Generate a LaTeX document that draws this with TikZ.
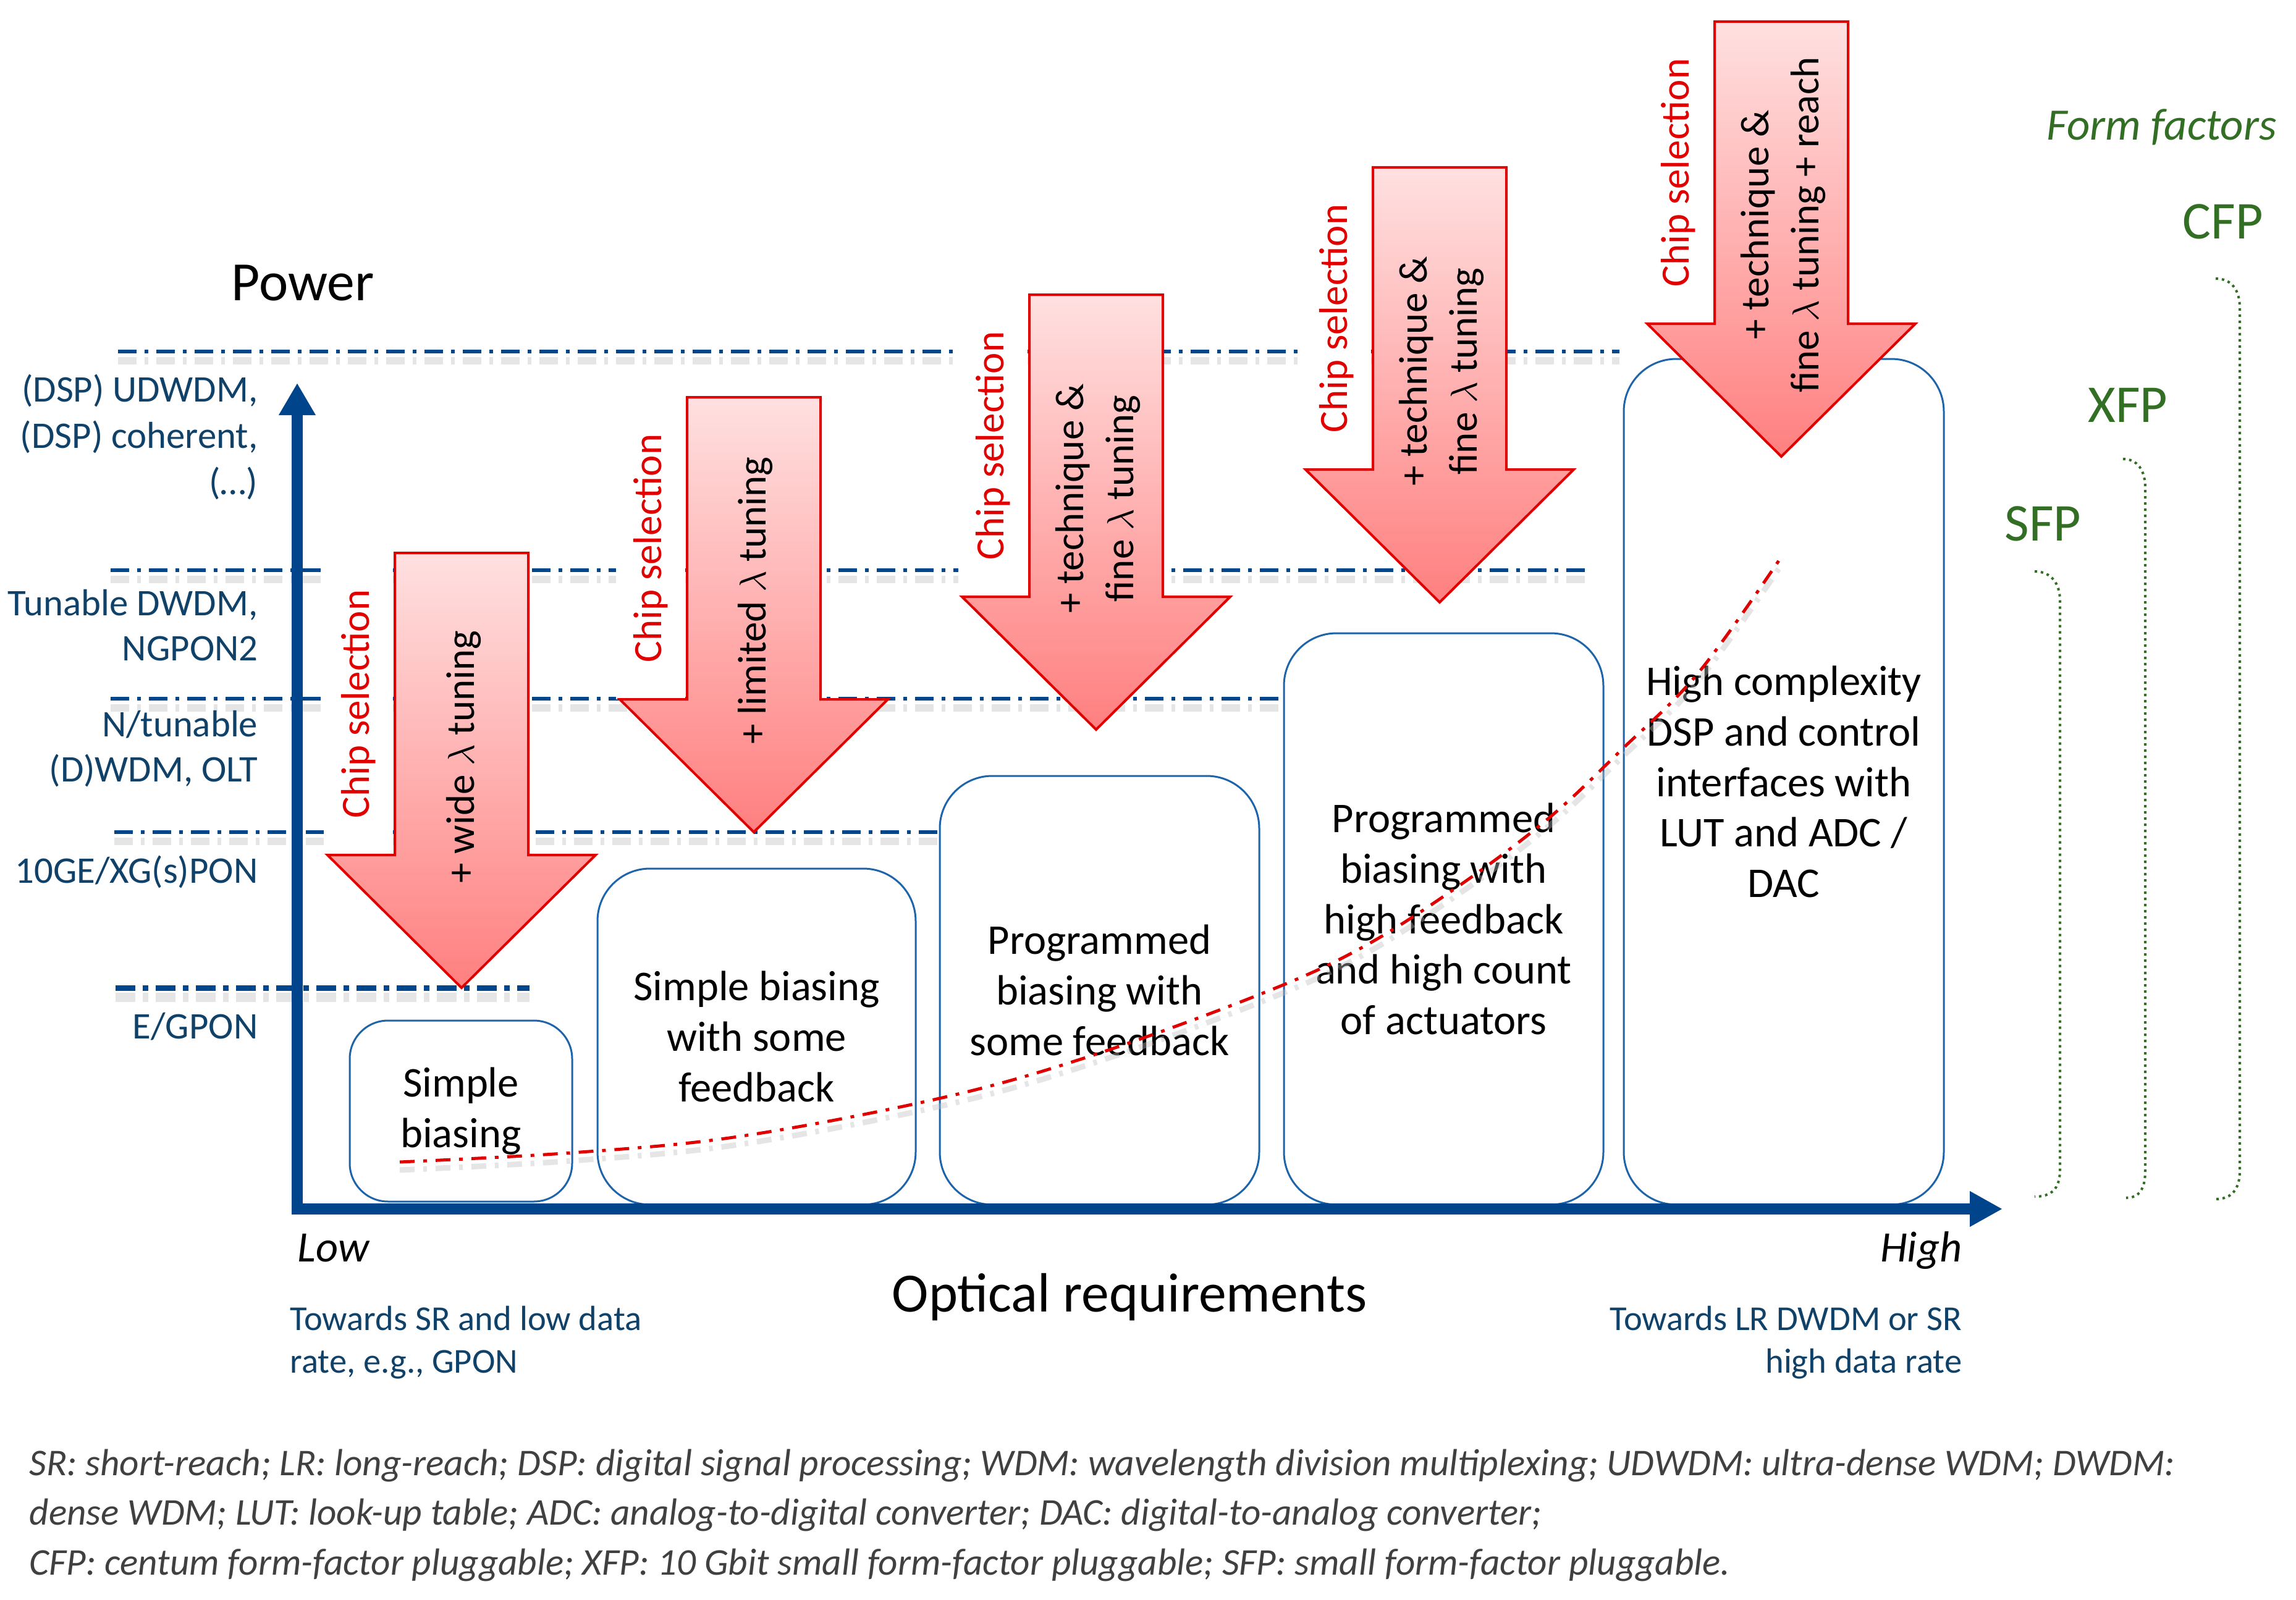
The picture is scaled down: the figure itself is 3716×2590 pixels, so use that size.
\documentclass[tikz,border=0pt]{standalone}
\usepackage{fontspec}
\setmainfont{Carlito}
\usetikzlibrary{arrows.meta}

\definecolor{axisblue}{RGB}{0,68,140}
\definecolor{levelblue}{RGB}{0,70,140}
\definecolor{labelblue}{RGB}{15,65,105}
\definecolor{boxblue}{RGB}{30,100,170}
\definecolor{arrowred}{RGB}{225,0,0}
\definecolor{ffgreen}{RGB}{50,110,35}
\definecolor{notegray}{RGB}{64,64,64}

\tikzset{
  level/.style={levelblue, line width=0.6mm, dash pattern=on 3mm off 1.3mm on 0.6mm off 1.3mm},
  levelshadow/.style={black!25, opacity=0.4, line width=1.2mm, dash pattern=on 3mm off 1.3mm on 0.6mm off 1.3mm},
  levellabel/.style={text=labelblue, inner sep=0, align=right, font=\fontsize{17.3}{20.5}\selectfont},
  stage/.style={draw=boxblue, line width=0.3mm, fill=white, align=center, inner sep=0,
    rounded corners=8.5mm, font=\fontsize{19.5}{23.3}\selectfont},
  chip/.style={rotate=90, fill=white, text=arrowred, inner sep=0, minimum width=48.9mm,
    minimum height=11.2mm, font=\fontsize{18.5}{22}\selectfont},
  bigarrow/.style={draw=arrowred, line width=0.4mm, line join=miter, top color=red!12, bottom color=red!50},
  arrowtext/.style={rotate=90, align=center, inner sep=0, font=\fontsize{18.5}{23}\selectfont},
  trend/.style={arrowred, line width=0.5mm, dash pattern=on 2.4mm off 1.4mm on 0.6mm off 1.4mm},
  axis/.style={axisblue, line width=1.8mm, line join=miter},
  toward/.style={text=labelblue, inner sep=0, font=\fontsize{16.1}{19.6}\selectfont},
  ffbracket/.style={ffgreen, line width=0.4mm, dash pattern=on 0.4mm off 0.6mm},
  fflabel/.style={text=ffgreen, inner sep=0, font=\fontsize{24.5}{28}\selectfont}
}

\begin{document}
\begin{tikzpicture}[x=0.1mm, y=-0.1mm]
  \useasboundingbox (0,0) rectangle (3716,2590);

  \foreach \y/\xa/\xb in {569/191/2621, 923/179/2568, 1131/179/2074, 1347/185/1517} {
    \draw[levelshadow] (\xa,\y+15) -- (\xb,\y+15);
    \draw[level] (\xa,\y) -- (\xb,\y);
  }
  \draw[levelshadow, line width=1.5mm, dash pattern=on 3.2mm off 1.2mm on 0.9mm off 1.2mm] (187,1614) -- (857,1614);
  \draw[level, line width=0.9mm, dash pattern=on 3.2mm off 1.2mm on 0.9mm off 1.2mm] (187,1599) -- (857,1599);

  \node[levellabel, anchor=base east, font=\fontsize{17.3}{21.3}\selectfont] (udwdm) at (418,800) {(DSP) UDWDM,\\(DSP) coherent,\\(…)};
  \node[levellabel, anchor=base east] (dwdm) at (418,1069) {Tunable DWDM,\\NGPON2};
  \node[levellabel, anchor=base east] (olt) at (418,1265) {N/tunable\\(D)WDM, OLT};
  \node[levellabel, anchor=base east] (xgpon) at (418,1429) {10GE/XG(s)PON};
  \node[levellabel, anchor=base east] (gpon) at (418,1681) {E/GPON};

  \node[anchor=base west, inner sep=0, font=\fontsize{25.5}{30}\selectfont] (power) at (374,486) {Power};

  \node[stage, minimum width=36mm, minimum height=29.3mm, rounded corners=6.2mm] (simple) at (746,1798.5) {Simple\\biasing};
  \node[stage, minimum width=51.5mm, minimum height=54.4mm] (somefb) at (1224.5,1678) {Simple biasing\\with some\\feedback};
  \node[stage, minimum width=51.7mm, minimum height=69.4mm] (progfb) at (1779.5,1603) {Programmed\\biasing with\\some feedback};
  \node[stage, minimum width=51.7mm, minimum height=92.5mm] (highfb) at (2336.5,1487.5) {Programmed\\biasing with\\high feedback\\and high count\\of actuators};
  \node[stage, minimum width=51.8mm, minimum height=136.9mm] (dsp) at (2887,1265.5) {High complexity\\DSP and control\\interfaces with\\LUT and ADC /\\DAC};

  \foreach \x/\y/\n in {747/1599/A, 1220/1347/B, 1774/1181/C, 2330/975/D, 2883/739/E} {
    \node[chip] (chip\n) at (\x-167,\y-459.5) {Chip selection};
    \draw[bigarrow] (\x-108,\y-704) -- (\x+108,\y-704) -- (\x+108,\y-215) -- (\x+217,\y-215)
      -- (\x,\y) -- (\x-217,\y-215) -- (\x-108,\y-215) -- cycle;
  }
  \node[arrowtext] (wide) at (751,1225) {+ wide $\lambda$ tuning};
  \node[arrowtext] (limited) at (1223,972) {+ limited $\lambda$ tuning};
  \node[arrowtext] (techC) at (1777,807) {+ technique \&\\fine $\lambda$ tuning};
  \node[arrowtext] (techD) at (2333,601) {+ technique \&\\fine $\lambda$ tuning};
  \node[arrowtext] (techE) at (2886,364) {+ technique \&\\fine $\lambda$ tuning + reach};

  \draw[trend, black!25, opacity=0.4, line width=0.9mm, shift={(0,13)}] plot[smooth, tension=0.6] coordinates {(647,1881) (926,1866) (1194,1840) (1516,1779) (1757,1712) (2038,1610) (2204,1534) (2364,1432) (2507,1324) (2624,1214) (2748,1090) (2880,906)};
  \draw[trend] plot[smooth, tension=0.6] coordinates {(647,1881) (926,1866) (1194,1840) (1516,1779) (1757,1712) (2038,1610) (2204,1534) (2364,1432) (2507,1324) (2624,1214) (2748,1090) (2880,906)};

  \coordinate (ytop) at (481,620);
  \coordinate (origin) at (481,1957);
  \coordinate (xend) at (3241,1957);
  \draw[axis, {Triangle[length=5.2mm, width=5.6mm]}-{Triangle[length=5.3mm, width=5.4mm]}] (ytop) -- (origin) -- (xend);

  \node[anchor=base west, inner sep=0, font=\itshape\fontsize{20}{24}\selectfont] (low) at (481,2042) {Low};
  \node[anchor=base east, inner sep=0, font=\itshape\fontsize{20}{24}\selectfont] (high) at (3176,2042) {High};
  \node[anchor=base, inner sep=0, font=\fontsize{25.5}{30}\selectfont] (optreq) at (1828,2123) {Optical requirements};
  \node[toward, anchor=base west, align=left] (towlow) at (469,2222) {Towards SR and low data\\rate, e.g., GPON};
  \node[toward, anchor=base east, align=right] (towhigh) at (3176,2222) {Towards LR DWDM or SR\\high data rate};

  \node[anchor=base west, inner sep=0, text=ffgreen, font=\itshape\fontsize{20.7}{24}\selectfont] (formf) at (3312,227) {Form factors};
  \node[fflabel, anchor=base west] (cfp) at (3532,387) {CFP};
  \node[fflabel, anchor=base west] (xfp) at (3379,683) {XFP};
  \node[fflabel, anchor=base west] (sfp) at (3244,875) {SFP};
  \draw[ffbracket] (3586,451) .. controls (3612,451) and (3625,470) .. (3625,498) -- (3625,1895) .. controls (3625,1925) and (3612,1941) .. (3586,1941);
  \draw[ffbracket] (3436,743) .. controls (3460,743) and (3472,762) .. (3472,790) -- (3472,1895) .. controls (3472,1925) and (3462,1939) .. (3441,1939);
  \draw[ffbracket] (3293,925) .. controls (3320,925) and (3334,945) .. (3334,972) -- (3334,1893) .. controls (3334,1925) and (3320,1937) .. (3293,1937);

  \node[anchor=base west, align=left, inner sep=0, text=notegray, font=\itshape\fontsize{17.4}{22.9}\selectfont] (notes) at (47,2549) {SR: short-reach; LR: long-reach; DSP: digital signal processing; WDM: wavelength division multiplexing; UDWDM: ultra-dense WDM; DWDM:\\dense WDM; LUT: look-up table; ADC: analog-to-digital converter; DAC: digital-to-analog converter;\\CFP: centum form-factor pluggable; XFP: 10 Gbit small form-factor pluggable; SFP: small form-factor pluggable.};
\end{tikzpicture}
\end{document}
